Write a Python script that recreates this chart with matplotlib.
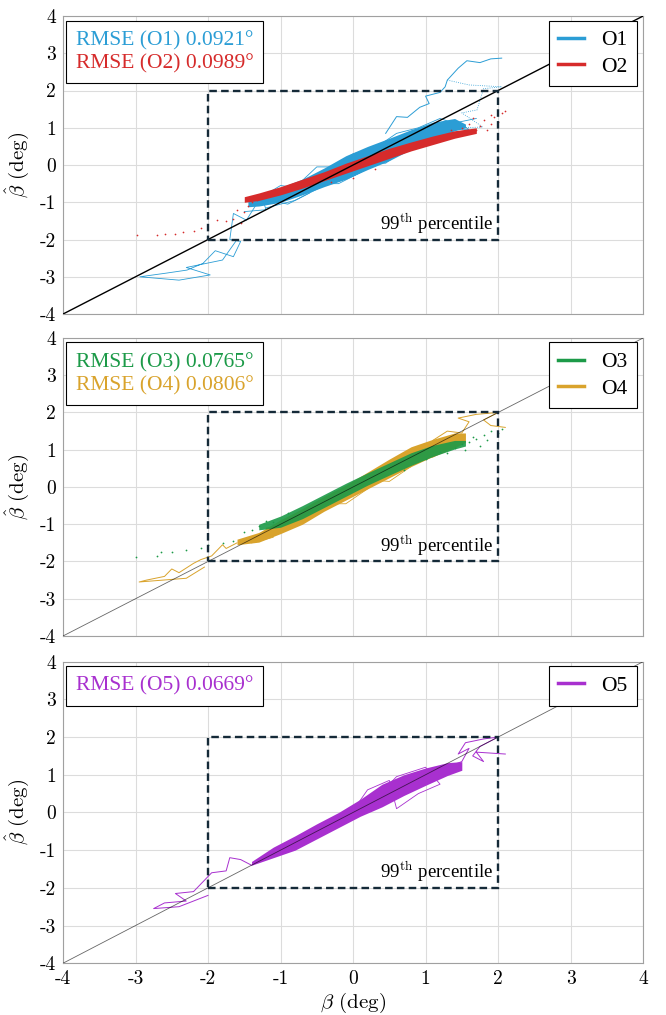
import matplotlib.pyplot as plt
from matplotlib.lines import Line2D
from matplotlib.patches import Rectangle

plt.rcParams['mathtext.fontset'] = 'cm'
plt.rcParams['axes.unicode_minus'] = False

# colours
c_o1 = '#2b9dd5'
c_o2 = '#d62b2b'
c_o3 = '#1c9a48'
c_o4 = '#d9a32c'
c_o5 = '#a830cf'

ticks = [-4, -3, -2, -1, 0, 1, 2, 3, 4]
tick_labels = ['-4', '-3', '-2', '-1', '0', '1', '2', '3', '4']

# ---- O1 (blue) : dense core envelope, zigzag traces ----
o1_band_b = [-1.45, -1.3, -1.0, -0.7, -0.4, -0.1, 0.2, 0.5, 0.8, 1.1, 1.4, 1.55]
o1_band_lo = [-1.12, -1.10, -1.00, -0.80, -0.58, -0.38, -0.12, 0.12, 0.42, 0.70, 0.92, 1.00]
o1_band_hi = [-0.95, -0.80, -0.60, -0.38, -0.08, 0.25, 0.50, 0.72, 0.95, 1.15, 1.25, 1.10]
o1_up_b = [0.45, 0.6, 0.75, 0.92, 1.05, 1.0, 1.2, 1.27, 1.3, 1.45, 1.57, 1.75, 1.9, 2.05]
o1_up_bh = [0.85, 1.3, 1.28, 1.55, 1.65, 1.85, 1.95, 2.1, 2.28, 2.6, 2.8, 2.75, 2.85, 2.87]
o1_up2_b = [1.3, 1.6, 2.05, 1.8, 1.71, 1.5, 1.79, 1.5, 1.2]
o1_up2_bh = [2.28, 2.15, 2.1, 2.05, 1.48, 1.4, 1.02, 1.0, 1.05]
o1_lo_b = [-1.3, -1.47, -1.65, -1.7, -1.55, -1.65, -1.9, -2.07, -2.29, -2.57, -2.94, -2.4, -1.97, -2.3, -1.8, -1.6]
o1_lo_bh = [-0.95, -1.48, -1.3, -2.0, -2.05, -2.46, -2.3, -2.64, -2.82, -2.9, -3.0, -3.09, -2.95, -2.75, -2.55, -2.0]
o1_mid_b = [-1.3, -1.0, -0.8, -0.5, -0.3, 0.0, 0.3, 0.6, 0.9, 1.2, 1.5, 1.2, 0.8, 0.4, 0.0, -0.4, -0.8, -1.2]
o1_mid_bh = [-0.9, -0.55, -0.6, -0.05, -0.05, 0.3, 0.45, 0.85, 1.0, 1.25, 1.05, 0.85, 0.45, 0.1, -0.3, -0.55, -0.95, -1.15]
o1_edge_b = [-1.5, -1.2, -1.25, -0.9, -0.6, -0.65, -0.2, 0.1, 0.15, 0.45, 0.7, 0.75, 1.0, 1.3, 1.6, 1.45, 1.7]
o1_edge_bh = [-1.25, -1.2, -0.9, -1.05, -0.75, -0.5, -0.5, -0.2, 0.05, 0.05, 0.4, 0.55, 0.65, 0.95, 0.95, 1.15, 1.25]

# ---- O2 (red) : dense core envelope, scattered points ----
o2_band_b = [-1.5, -1.3, -1.0, -0.7, -0.4, -0.1, 0.2, 0.5, 0.8, 1.1, 1.4, 1.7]
o2_band_lo = [-1.00, -0.95, -0.80, -0.62, -0.42, -0.22, -0.02, 0.18, 0.38, 0.55, 0.72, 0.85]
o2_band_hi = [-0.85, -0.75, -0.58, -0.38, -0.18, 0.05, 0.25, 0.45, 0.62, 0.78, 0.92, 1.00]
o2_dot_b = [-2.98, -2.7, -2.6, -2.45, -2.35, -2.2, -2.1, -1.88, -1.75, -1.6, -1.5, -1.45, -1.33,
            -1.55, -1.65, -1.4, -1.25, -1.1, 0.0, 0.3, -0.3,
            1.5, 1.6, 1.7, 1.8, 1.9, 2.0, 2.1, 1.95, 1.65, 1.75, 1.55, 1.85, 1.45, 1.35, 2.05, 1.9]
o2_dot_bh = [-1.88, -1.88, -1.85, -1.84, -1.8, -1.76, -1.7, -1.48, -1.5, -1.21, -1.25, -1.1, -0.94,
             -1.55, -1.45, -1.0, -0.85, -0.7, -0.35, -0.1, -0.45,
             1.0, 1.1, 0.95, 1.2, 1.35, 1.15, 1.45, 1.3, 1.25, 1.05, 0.9, 0.95, 0.8, 0.95, 1.4, 1.1]

# ---- O3 (green) ----
o3_band_b = [-1.3, -1.0, -0.7, -0.4, -0.1, 0.2, 0.5, 0.8, 1.1, 1.4, 1.55]
o3_band_lo = [-1.15, -1.08, -0.85, -0.55, -0.25, 0.05, 0.32, 0.58, 0.82, 1.02, 1.10]
o3_band_hi = [-1.00, -0.78, -0.50, -0.20, 0.10, 0.38, 0.65, 0.92, 1.12, 1.25, 1.25]
o3_dot_b = [-3.0, -2.7, -2.65, -2.5, -2.3, -2.1, -2.0, -1.8, -1.65, -1.5, -1.4, -1.3, -1.2, -1.1, -0.9,
            1.2, 1.4, 1.5, 1.6, 1.7, 1.8, 1.9, 2.0, 2.05, 1.75, 1.55, 1.3, 1.0, 0.7, 1.65, 1.85]
o3_dot_bh = [-1.88, -1.85, -1.75, -1.75, -1.7, -1.65, -1.55, -1.5, -1.45, -1.2, -1.15, -1.05, -0.9, -0.95, -0.7,
             0.95, 1.05, 1.15, 1.2, 1.3, 1.4, 1.5, 1.45, 1.55, 1.1, 1.0, 0.9, 0.75, 0.45, 1.35, 1.25]

# ---- O4 (gold) ----
o4_band_b = [-1.6, -1.3, -1.0, -0.7, -0.4, -0.1, 0.2, 0.5, 0.8, 1.1, 1.4, 1.55]
o4_band_lo = [-1.55, -1.48, -1.25, -1.00, -0.65, -0.35, -0.05, 0.25, 0.55, 0.82, 1.05, 1.20]
o4_band_hi = [-1.40, -1.22, -0.88, -0.58, -0.25, 0.05, 0.40, 0.75, 1.08, 1.28, 1.45, 1.45]
o4_up_b = [1.1, 1.3, 1.5, 1.6, 1.45, 1.7, 2.0, 1.8, 1.9, 2.1]
o4_up_bh = [1.25, 1.5, 1.45, 1.75, 1.85, 1.95, 2.0, 1.8, 1.65, 1.6]
o4_lo_b = [-1.6, -1.75, -1.8, -1.95, -2.1, -2.2, -2.4, -2.5, -2.6, -2.85, -2.95, -2.3, -2.05]
o4_lo_bh = [-1.5, -1.65, -1.55, -1.85, -1.95, -2.05, -2.3, -2.2, -2.4, -2.5, -2.55, -2.45, -2.15]
o4_mid_b = [-1.4, -1.1, -1.2, -0.8, -0.5, -0.55, -0.1, 0.2, 0.15, 0.5, 0.8, 0.75, 1.1, 1.35]
o4_mid_bh = [-1.5, -1.35, -1.1, -1.05, -0.7, -0.45, -0.45, -0.05, 0.2, 0.15, 0.55, 0.75, 0.8, 1.05]

# ---- O5 (purple) ----
o5_band_b = [-1.4, -1.1, -0.8, -0.5, -0.2, 0.1, 0.4, 0.7, 1.0, 1.3, 1.5]
o5_band_lo = [-1.40, -1.20, -1.00, -0.70, -0.40, -0.10, 0.15, 0.45, 0.72, 0.98, 1.12]
o5_band_hi = [-1.30, -0.92, -0.62, -0.30, 0.00, 0.35, 0.75, 1.00, 1.18, 1.32, 1.35]
o5_up_b = [1.3, 1.5, 1.6, 1.45, 1.55, 1.8, 2.0, 1.75, 1.65, 1.8, 1.7, 2.1]
o5_up_bh = [1.2, 1.35, 1.7, 1.55, 1.85, 1.95, 2.0, 1.75, 1.5, 1.35, 1.6, 1.55]
o5_lo_b = [-1.4, -1.55, -1.7, -1.75, -1.95, -2.05, -2.2, -2.45, -2.3, -2.6, -2.75, -2.4, -2.0]
o5_lo_bh = [-1.4, -1.25, -1.2, -1.55, -1.6, -1.8, -2.1, -2.15, -2.35, -2.4, -2.55, -2.5, -2.2]
o5_mid_b = [-1.2, -0.9, -1.0, -0.6, -0.3, 0.0, 0.2, 0.5, 0.6, 0.9, 1.2, 1.0, 0.6, 0.3, -0.1, -0.5]
o5_mid_bh = [-1.25, -0.85, -1.05, -0.75, -0.2, 0.05, 0.6, 0.85, 0.1, 0.5, 0.75, 1.2, 0.95, 0.35, -0.25, -0.65]

rmse_text = [['RMSE (O1) 0.0921°', 'RMSE (O2) 0.0989°'],
             ['RMSE (O3) 0.0765°', 'RMSE (O4) 0.0806°'],
             ['RMSE (O5) 0.0669°']]
legend_names = [['O1', 'O2'], ['O3', 'O4'], ['O5']]
legend_colors = [[c_o1, c_o2], [c_o3, c_o4], [c_o5]]

fig = plt.figure(figsize=(6.66, 10.15), dpi=100)
ax1 = fig.add_axes([0.0946, 0.6906, 0.871, 0.2936])
ax2 = fig.add_axes([0.0946, 0.3734, 0.871, 0.2936])
ax3 = fig.add_axes([0.0946, 0.0510, 0.871, 0.2971])
axes = [ax1, ax2, ax3]

# panel 1
ax1.fill_between(o1_band_b, o1_band_lo, o1_band_hi, color=c_o1, lw=0, zorder=2)
ax1.plot(o1_mid_b, o1_mid_bh, color=c_o1, lw=0.6, zorder=2)
ax1.plot(o1_edge_b, o1_edge_bh, color=c_o1, lw=0.6, zorder=2)
ax1.plot(o1_up_b, o1_up_bh, color=c_o1, lw=0.7, zorder=2)
ax1.plot(o1_up2_b, o1_up2_bh, color=c_o1, lw=0.6, ls=':', zorder=2)
ax1.plot(o1_lo_b, o1_lo_bh, color=c_o1, lw=0.6, zorder=2)
ax1.fill_between(o2_band_b, o2_band_lo, o2_band_hi, color=c_o2, lw=0, zorder=3)
ax1.scatter(o2_dot_b, o2_dot_bh, s=1.5, color=c_o2, lw=0, zorder=3)

# panel 2
ax2.fill_between(o4_band_b, o4_band_lo, o4_band_hi, color=c_o4, lw=0, zorder=2)
ax2.plot(o4_mid_b, o4_mid_bh, color=c_o4, lw=0.6, zorder=2)
ax2.plot(o4_up_b, o4_up_bh, color=c_o4, lw=0.7, zorder=2)
ax2.plot(o4_lo_b, o4_lo_bh, color=c_o4, lw=0.7, zorder=2)
ax2.fill_between(o3_band_b, o3_band_lo, o3_band_hi, color=c_o3, lw=0, alpha=0.9, zorder=3)
ax2.scatter(o3_dot_b, o3_dot_bh, s=1.6, color=c_o3, lw=0, zorder=3)

# panel 3
ax3.fill_between(o5_band_b, o5_band_lo, o5_band_hi, color=c_o5, lw=0, zorder=2)
ax3.plot(o5_mid_b, o5_mid_bh, color=c_o5, lw=0.6, zorder=2)
ax3.plot(o5_up_b, o5_up_bh, color=c_o5, lw=0.7, zorder=2)
ax3.plot(o5_lo_b, o5_lo_bh, color=c_o5, lw=0.7, zorder=2)

for i, ax in enumerate(axes):
    ax.set_xlim(-4, 4)
    ax.set_ylim(-4, 4)
    ax.set_xticks(ticks)
    ax.set_yticks(ticks)
    ax.set_yticklabels(tick_labels, fontfamily='cmr10', fontsize=14)
    if i < 2:
        ax.set_xticklabels([])
    else:
        ax.set_xticklabels(tick_labels, fontfamily='cmr10', fontsize=14)
    ax.tick_params(length=0, pad=5)
    ax.grid(True, color='#dcdcdc', lw=0.8)
    ax.set_axisbelow(True)
    for s in ax.spines.values():
        s.set_color('#a0a0a0')
        s.set_linewidth(0.8)
    # identity line
    ax.plot([-4, 4], [-4, 4], color='black', lw=1.0 if i == 0 else 0.6,
            alpha=1.0 if i == 0 else 0.6, zorder=4)
    # 99th percentile box
    ax.add_patch(Rectangle((-2, -2), 4, 4, fill=False, edgecolor='#152a38',
                           lw=1.7, ls=(0, (3.2, 1.8)), zorder=5))
    ax.text(1.93, -1.9, r'99$^{\mathrm{th}}$ percentile', ha='right', va='bottom',
            fontfamily='Liberation Serif', fontsize=13.5, zorder=6)
    ax.set_ylabel(r'$\hat{\beta}$ (deg)', fontfamily='cmr10', fontsize=15, labelpad=6)

    handles = [Line2D([], [], color=c, lw=2.5) for c in legend_colors[i]]
    leg = ax.legend(handles, legend_names[i], loc='upper right',
                    bbox_to_anchor=(0.99, 0.985), borderaxespad=0, fancybox=False,
                    framealpha=1, edgecolor='black', handlelength=1.2, handletextpad=0.8,
                    borderpad=0.45, labelspacing=0.3,
                    prop={'family': 'Liberation Serif', 'size': 15.5})
    leg.get_frame().set_linewidth(0.8)
    leg.set_zorder(10)
    ax.add_artist(leg)

    rh = [Line2D([], [], color=c) for c in legend_colors[i]]
    rleg = ax.legend(rh, rmse_text[i], loc='upper left', bbox_to_anchor=(0.005, 0.985),
                     borderaxespad=0, fancybox=False, framealpha=1, edgecolor='black',
                     handlelength=0, handletextpad=0, borderpad=0.45,
                     labelspacing=0.15, labelcolor=legend_colors[i],
                     prop={'family': 'Liberation Serif', 'size': 15.5})
    rleg.get_frame().set_linewidth(0.8)
    rleg.set_zorder(10)

ax3.set_xlabel(r'$\beta$ (deg)', fontfamily='cmr10', fontsize=15, labelpad=2)

fig.savefig('out.png', dpi=100)
